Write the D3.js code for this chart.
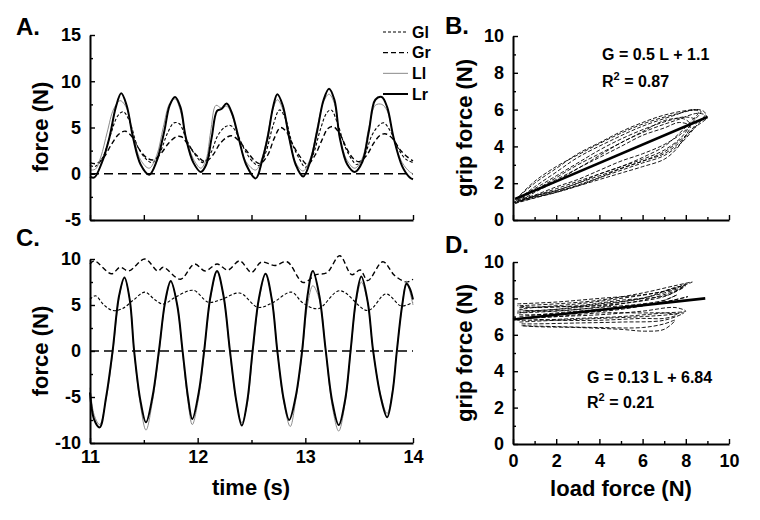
<!DOCTYPE html>
<html><head><meta charset="utf-8">
<script src="https://cdn.jsdelivr.net/npm/d3@7"></script>
<style>
body{margin:0;background:#fff}
text{font-family:"Liberation Sans",Arial,Helvetica,sans-serif;font-weight:bold;fill:#000}
</style></head>
<body><svg id="c" width="760" height="520"></svg>
<script>
// ---------- Panel A (time series, N) ----------
const A_Lr=[[11.00,-0.3],[11.04,-0.4],[11.11,1.2],[11.18,3.9],[11.24,7.2],[11.29,8.7],[11.34,7.4],[11.40,3.9],[11.47,1.0],[11.55,-0.1],[11.62,1.4],[11.69,4.6],[11.74,7.4],[11.79,8.3],[11.84,7.2],[11.89,3.9],[11.96,1.2],[12.03,0.2],[12.08,1.0],[12.13,3.9],[12.18,6.8],[12.22,7.0],[12.27,7.6],[12.32,6.5],[12.38,3.9],[12.45,1.0],[12.54,-0.5],[12.60,1.5],[12.65,3.9],[12.70,7.2],[12.74,8.6],[12.79,7.4],[12.85,3.9],[12.91,1.0],[12.98,-0.3],[13.05,1.5],[13.11,4.6],[13.17,8.0],[13.22,9.2],[13.27,8.0],[13.32,3.9],[13.39,1.0],[13.46,0.2],[13.53,1.3],[13.59,4.6],[13.65,8.0],[13.71,8.3],[13.76,7.2],[13.82,3.9],[13.90,0.8],[13.97,-0.4],[14.00,-0.6]];
const A_Ll=[[11.00,0.4],[11.05,0.5],[11.10,1.8],[11.16,4.5],[11.22,7.0],[11.28,7.9],[11.34,7.1],[11.40,4.2],[11.47,1.5],[11.55,0.6],[11.62,2.0],[11.68,5.0],[11.74,7.6],[11.79,8.1],[11.84,6.8],[11.89,4.0],[11.96,1.6],[12.03,0.6],[12.08,1.6],[12.12,4.5],[12.17,7.4],[12.22,7.1],[12.27,7.3],[12.32,6.3],[12.38,3.8],[12.45,1.3],[12.54,0.4],[12.60,1.8],[12.65,4.3],[12.70,7.0],[12.74,8.0],[12.79,7.0],[12.85,3.8],[12.91,1.2],[12.98,0.3],[13.05,1.8],[13.11,5.0],[13.17,7.8],[13.22,8.6],[13.27,7.6],[13.32,3.9],[13.39,1.4],[13.46,0.6],[13.53,1.7],[13.59,5.0],[13.65,7.4],[13.71,7.5],[13.76,6.8],[13.82,3.8],[13.90,1.2],[13.97,0.2],[14.00,0.0]];
const A_Gl=[[11.00,0.9],[11.05,0.8],[11.12,1.8],[11.19,4.2],[11.26,6.3],[11.31,6.7],[11.37,5.6],[11.44,3.0],[11.52,1.6],[11.58,1.2],[11.65,2.3],[11.72,4.4],[11.78,5.5],[11.83,5.4],[11.90,3.6],[11.98,2.0],[12.05,1.2],[12.12,2.2],[12.19,4.2],[12.26,5.1],[12.31,5.2],[12.37,4.2],[12.45,2.3],[12.52,1.2],[12.57,0.9],[12.63,2.2],[12.70,5.2],[12.76,6.9],[12.81,6.1],[12.88,3.2],[12.95,1.5],[13.00,0.7],[13.07,2.0],[13.14,4.8],[13.20,6.6],[13.24,6.9],[13.30,5.4],[13.37,2.9],[13.44,1.4],[13.48,1.0],[13.55,2.0],[13.62,4.2],[13.69,5.3],[13.73,5.5],[13.79,4.6],[13.86,2.8],[13.93,1.6],[14.00,1.2]];
const A_Gr=[[11.00,1.2],[11.06,1.1],[11.13,1.8],[11.20,3.2],[11.27,4.3],[11.33,4.6],[11.39,4.0],[11.46,2.6],[11.53,1.7],[11.59,1.5],[11.66,2.2],[11.73,3.3],[11.80,4.0],[11.85,4.0],[11.92,3.0],[11.99,2.0],[12.07,1.3],[12.14,2.0],[12.21,3.3],[12.28,4.0],[12.32,4.1],[12.38,3.6],[12.46,2.4],[12.53,1.4],[12.58,1.1],[12.65,2.0],[12.71,3.8],[12.77,5.0],[12.82,4.6],[12.89,3.0],[12.96,1.7],[13.02,1.0],[13.09,2.0],[13.16,3.8],[13.21,4.9],[13.26,5.1],[13.32,4.3],[13.39,2.6],[13.45,1.6],[13.50,1.3],[13.57,2.0],[13.64,3.4],[13.70,4.2],[13.75,4.3],[13.81,3.8],[13.88,2.6],[13.95,1.8],[14.00,1.4]];

// ---------- Panel C (time series, N) ----------
const C_Lr=[[11.00,-4.5],[11.04,-7.5],[11.09,-8.3],[11.15,-5.0],[11.21,0],[11.27,6.0],[11.32,8.0],[11.37,5.5],[11.41,0],[11.47,-5.5],[11.52,-7.75],[11.58,-5.0],[11.64,0],[11.70,5.5],[11.75,7.6],[11.81,5.0],[11.86,0],[11.91,-5.0],[11.95,-7.4],[12.01,-4.5],[12.06,0],[12.12,6.0],[12.18,8.7],[12.24,6.0],[12.30,0],[12.36,-5.5],[12.41,-8.1],[12.46,-5.5],[12.51,0],[12.57,5.8],[12.63,8.4],[12.69,5.5],[12.74,0],[12.80,-5.3],[12.85,-7.5],[12.91,-5.0],[12.97,0],[13.02,6.0],[13.07,8.7],[13.13,6.0],[13.19,0],[13.25,-5.5],[13.31,-8.05],[13.37,-5.3],[13.42,0],[13.47,5.5],[13.52,8.1],[13.58,5.3],[13.63,0],[13.70,-5.0],[13.76,-7.2],[13.81,-4.5],[13.85,0],[13.90,5.0],[13.94,7.3],[13.97,6.8],[14.00,5.6]];
const C_Ll=[[11.00,-4.0],[11.04,-7.0],[11.09,-8.0],[11.15,-5.2],[11.21,-0.3],[11.27,5.8],[11.32,7.9],[11.37,5.5],[11.41,0],[11.47,-6.0],[11.52,-8.6],[11.58,-5.5],[11.64,-0.3],[11.70,5.3],[11.75,7.5],[11.81,5.0],[11.86,-0.2],[11.91,-5.5],[11.95,-8.0],[12.01,-5.0],[12.06,-0.3],[12.12,5.8],[12.18,8.6],[12.24,6.0],[12.30,-0.2],[12.36,-5.6],[12.41,-7.8],[12.46,-5.8],[12.51,-0.4],[12.57,5.5],[12.63,8.3],[12.69,5.6],[12.74,0],[12.80,-5.6],[12.86,-8.2],[12.91,-5.4],[12.97,-0.3],[13.02,5.0],[13.07,7.1],[13.13,5.6],[13.19,0],[13.25,-6.0],[13.31,-8.7],[13.37,-5.6],[13.42,-0.3],[13.47,5.2],[13.52,7.5],[13.58,5.2],[13.63,0],[13.70,-4.8],[13.76,-6.8],[13.81,-4.3],[13.85,0],[13.90,5.0],[13.94,7.6],[13.97,6.5],[14.00,5.0]];
const C_Gl=[[11.00,5.6],[11.05,6.0],[11.13,5.0],[11.21,4.4],[11.30,4.6],[11.40,5.5],[11.51,6.4],[11.60,5.6],[11.68,5.1],[11.80,5.9],[11.96,6.6],[12.10,5.3],[12.22,5.6],[12.39,6.3],[12.56,4.75],[12.69,5.2],[12.87,6.4],[12.98,5.2],[13.12,4.6],[13.32,6.55],[13.58,4.4],[13.75,6.2],[13.89,4.9],[14.00,5.3]];
const C_Gr=[[11.00,9.45],[11.04,9.8],[11.20,8.4],[11.28,9.1],[11.36,8.7],[11.51,10.0],[11.63,8.7],[11.68,9.1],[11.84,7.8],[11.97,9.45],[12.07,8.7],[12.18,9.45],[12.28,8.8],[12.39,9.8],[12.50,8.55],[12.59,9.65],[12.72,9.3],[12.83,9.7],[12.98,7.45],[13.10,8.3],[13.20,8.5],[13.32,10.35],[13.43,8.3],[13.51,8.8],[13.58,7.65],[13.72,9.7],[13.83,8.2],[13.94,7.5],[14.00,7.8]];

// ---------- Panel B (grip vs load loops, N) ----------
const B_loops=[
 [[0.1,0.9],[1,1.2],[2,1.5],[3,1.9],[4,2.3],[5,2.7],[6,3.1],[7,3.5],[7.8,4.2],[8.4,5.0],[8.9,5.8],[8.6,6.0],[7.7,5.8],[6.2,5.3],[4.6,4.5],[3.1,3.6],[2,2.9],[1,2.1],[0.2,1.2]],
 [[0.1,0.9],[1,1.3],[2,1.6],[3,2.0],[4,2.5],[5,2.9],[6,3.3],[7,3.8],[7.8,4.5],[8.3,5.3],[8.7,5.9],[8.3,6.0],[7.5,5.7],[6,5.1],[4.5,4.3],[3,3.4],[2,2.6],[1,1.8],[0.1,1.0]],
 [[0.2,1.1],[1,1.35],[2,1.8],[3,2.2],[4,2.7],[5,3.2],[6,3.6],[7,4.1],[7.8,4.7],[8.2,5.2],[7.9,5.5],[7,5.4],[6,4.8],[5,4.2],[4,3.6],[3,3.0],[2,2.3],[1,1.6],[0.2,1.1]],
 [[0.3,1.0],[1,1.2],[2,1.55],[3,1.85],[4,2.2],[5,2.55],[6,2.9],[7,3.3],[7.6,3.9],[8.0,4.6],[8.2,5.1],[7.7,5.3],[7,5.0],[6,4.6],[5,4.0],[4,3.4],[3,2.8],[2,2.1],[1,1.5],[0.3,1.0]],
 [[0.1,0.95],[1,1.3],[2,1.7],[3,2.1],[4,2.5],[5,2.9],[6,3.4],[7,4.0],[7.6,4.6],[8.2,5.3],[8.6,5.9],[8.1,5.95],[7,5.7],[6,5.3],[5,4.8],[4,4.2],[3,3.6],[2,2.8],[1,2.0],[0.2,1.2]],
 [[0.2,1.05],[1,1.25],[2,1.5],[3,1.85],[4,2.3],[5,2.8],[6,3.2],[7,3.7],[7.8,4.4],[8.5,5.1],[9.0,5.6],[8.6,5.8],[7.5,5.4],[6.3,4.9],[5,4.2],[4,3.5],[3,2.8],[2,2.2],[1,1.6],[0.2,1.0]],
 [[0.2,1.0],[1,1.3],[2,1.6],[3,2.0],[4,2.4],[5,2.8],[6,3.2],[7,3.6],[7.7,4.2],[8.2,4.8],[8.5,5.4],[8.0,5.6],[7.2,5.4],[6.2,5.0],[5,4.4],[4,3.8],[3,3.1],[2,2.4],[1,1.7],[0.1,1.1]]
];
const B_fit=[[0.1,1.15],[9.0,5.6]];
const B_eq=["G = 0.5 L + 1.1","0.87"];

// ---------- Panel D (grip vs load loops, N) ----------
const D_loops=[
 [[0.3,7.6],[2,7.7],[4,7.9],[6,8.3],[7.5,8.7],[8.3,8.9],[7,8.4],[5,8.0],[3,7.7],[1,7.5],[0.3,7.4]],
 [[0.2,7.3],[2,7.4],[4,7.7],[6,8.0],[7.5,8.6],[8,8.7],[7,8.3],[5,7.8],[3,7.5],[1,7.3],[0.2,7.2]],
 [[0.3,7.0],[2,7.2],[4,7.4],[6,7.6],[7.8,8.0],[8.1,8.1],[7,7.8],[5,7.5],[3,7.2],[1,7.0],[0.3,6.9]],
 [[0.2,6.9],[2,7.0],[4,7.1],[6,7.3],[7.5,7.5],[8,7.3],[7,7.2],[5,7.0],[3,6.9],[1,6.8],[0.2,6.8]],
 [[0.4,6.5],[2,6.45],[4,6.4],[6,6.4],[7,6.6],[7.5,6.8],[7,6.3],[6.1,6.2],[5,6.3],[3,6.4],[1,6.45],[0.4,6.5]],
 [[0.3,6.7],[2,6.8],[4,6.9],[6,7.0],[7.2,7.1],[7.9,7.2],[7,6.8],[5,6.7],[3,6.65],[1,6.6],[0.3,6.6]],
 [[0.3,7.5],[2,7.55],[4,7.6],[6,7.9],[7.5,8.4],[7.9,8.6],[7,8.1],[5,7.7],[3,7.4],[1,7.3],[0.3,7.4]],
 [[0.2,7.2],[2,7.3],[4,7.5],[6,7.7],[7,7.9],[7.6,8.2],[6.8,7.8],[5,7.4],[3,7.2],[1,7.1],[0.2,7.1]],
 [[0.5,6.9],[2,7.0],[4,7.2],[6,7.2],[7,7.2],[7.6,7.1],[7,6.9],[6,6.9],[4,6.8],[2,6.8],[0.5,6.9]],
 [[0.2,7.7],[2,7.8],[4,8.0],[6,8.2],[7.4,8.5],[8.0,8.8],[7.2,8.2],[5,7.9],[3,7.6],[1,7.5],[0.2,7.6]]
];
const D_fit=[[0,6.84],[8.9,8.0]];
const D_eq=["G = 0.13 L + 6.84","0.21"];

// ---------- ticks & labels ----------
const timeMajor=[11,12,13,14], timeAll=[11,11.5,12,12.5,13,13.5,14];
const aMajor=[-5,0,5,10,15], aMinor=[-2.5,2.5,7.5,12.5];
const cMajor=[-10,-5,0,5,10], cMinor=[-7.5,-2.5,2.5,7.5];
const gMajor=[0,2,4,6,8,10], gMinor=[1,3,5,7,9];
const legendNames=["Gl","Gr","Ll","Lr"];

// ---------- drawing ----------
const svg=d3.select('#c');
const xT=d3.scaleLinear().domain([11,14]).range([90,413]);
const yA=d3.scaleLinear().domain([-5,15]).range([220,35]);
const yC=d3.scaleLinear().domain([-10,10]).range([443,259]);
const xL=d3.scaleLinear().domain([0,10]).range([513,729]);
const yB=d3.scaleLinear().domain([0,10]).range([220,36]);
const yD=d3.scaleLinear().domain([0,10]).range([444,262]);
const fmt=d=>String(d);

function styleAxis(g){
  g.select('.domain').attr('stroke','#000').attr('stroke-width',2);
  g.selectAll('.tick line').attr('stroke','#000').attr('stroke-width',1.4);
  g.selectAll('.tick text').style('font-size','18px').style('font-family','"Liberation Sans",Arial,sans-serif').style('font-weight','bold').attr('fill','#000');
}
function yAxis(scale,x,major,minor){
  svg.append('g').attr('transform',`translate(${x},0)`)
    .call(d3.axisLeft(scale).tickValues(minor).tickSizeInner(-3).tickSizeOuter(0).tickFormat(''))
    .call(g=>{g.select('.domain').remove();g.selectAll('line').attr('stroke','#000').attr('stroke-width',1.4);});
  svg.append('g').attr('transform',`translate(${x},0)`)
    .call(d3.axisLeft(scale).tickValues(major).tickSizeInner(-5).tickSizeOuter(0).tickPadding(9).tickFormat(fmt))
    .call(styleAxis);
}
function xAxis(scale,y,major,minor,labels,pad){
  svg.append('g').attr('transform',`translate(0,${y})`)
    .call(d3.axisBottom(scale).tickValues(minor).tickSizeInner(-3).tickSizeOuter(0).tickFormat(''))
    .call(g=>{g.select('.domain').remove();g.selectAll('line').attr('stroke','#000').attr('stroke-width',1.4);});
  svg.append('g').attr('transform',`translate(0,${y})`)
    .call(d3.axisBottom(scale).tickValues(major).tickSizeInner(-5).tickSizeOuter(0).tickPadding(pad).tickFormat(labels?fmt:''))
    .call(styleAxis);
}

const curve=d3.curveCatmullRom.alpha(0.5);
function series(data,xs,ys,stroke,w,dash){
  svg.append('path').datum(data)
    .attr('d',d3.line().x(d=>xs(d[0])).y(d=>ys(d[1])).curve(curve))
    .attr('fill','none').attr('stroke',stroke).attr('stroke-width',w)
    .attr('stroke-dasharray',dash||null).attr('stroke-linejoin','round');
}
function zeroLine(ys){
  svg.append('line').attr('x1',xT(11)).attr('x2',xT(14)).attr('y1',ys(0)).attr('y2',ys(0))
    .attr('stroke','#000').attr('stroke-width',1.3).attr('stroke-dasharray','9,5');
}
const styles={Gl:['#000',1.1,'3,2'],Gr:['#000',1.4,'5,3'],Ll:['#8a8a8a',1,null],Lr:['#000',2,null]};

// Panel A
zeroLine(yA);
series(A_Gl,xT,yA,...styles.Gl);
series(A_Gr,xT,yA,...styles.Gr);
series(A_Ll,xT,yA,...styles.Ll);
series(A_Lr,xT,yA,...styles.Lr);
yAxis(yA,90,aMajor,aMinor);
xAxis(xT,220,timeAll,[],false,6);

// Panel C
zeroLine(yC);
series(C_Gl,xT,yC,...styles.Gl);
series(C_Gr,xT,yC,...styles.Gr);
series(C_Ll,xT,yC,...styles.Ll);
series(C_Lr,xT,yC,...styles.Lr);
yAxis(yC,90,cMajor,cMinor);
xAxis(xT,443,timeMajor,timeAll.filter(t=>!timeMajor.includes(t)),true,7);

// Panel B
B_loops.forEach(l=>series(l,xL,yB,'#000',0.9,'4,2'));
series(B_fit,xL,yB,'#000',2.6,null);
yAxis(yB,513,gMajor,gMinor);
xAxis(xL,220,gMajor,gMinor,false,6);

// Panel D
D_loops.forEach(l=>series(l,xL,yD,'#000',0.9,'4,2'));
series(D_fit,xL,yD,'#000',2.6,null);
yAxis(yD,513,gMajor,gMinor);
xAxis(xL,444,gMajor,gMinor,true,10);

// legend
const legY=d3.scalePoint().domain(legendNames).range([32,94]);
legendNames.forEach(n=>{
  const s=styles[n];
  svg.append('line').attr('x1',383).attr('x2',408).attr('y1',legY(n)).attr('y2',legY(n))
    .attr('stroke',s[0]).attr('stroke-width',s[1]).attr('stroke-dasharray',s[2]);
  svg.append('text').attr('x',412).attr('y',legY(n)+5.5).style('font-size','16px').text(n);
});

// panel letters
[["A.",16,35],["B.",445,34],["C.",16,246],["D.",445,253]].forEach(p=>
  svg.append('text').attr('x',p[1]).attr('y',p[2]).style('font-size','24px').text(p[0]));

// axis titles
function vTitle(t,x,y){svg.append('text').attr('transform',`translate(${x},${y}) rotate(-90)`).attr('text-anchor','middle').style('font-size','22px').text(t);}
vTitle('force (N)',48,127); vTitle('force (N)',48,351);
vTitle('grip force (N)',472,128); vTitle('grip force (N)',472,353);
svg.append('text').attr('x',251).attr('y',495).attr('text-anchor','middle').style('font-size','22px').text('time (s)');
svg.append('text').attr('x',621).attr('y',496).attr('text-anchor','middle').style('font-size','22px').text('load force (N)');

// equations
function eq(lines,x,y1,y2){
  svg.append('text').attr('x',x).attr('y',y1).style('font-size','16px').text(lines[0]);
  const t=svg.append('text').attr('x',x).attr('y',y2).style('font-size','16px');
  t.append('tspan').text('R');
  t.append('tspan').attr('dy',-7).style('font-size','11px').text('2');
  t.append('tspan').attr('dy',7).text(' = '+lines[1]);
}
eq(B_eq,602,60,87);
eq(D_eq,587,383,408);
</script></body></html>
